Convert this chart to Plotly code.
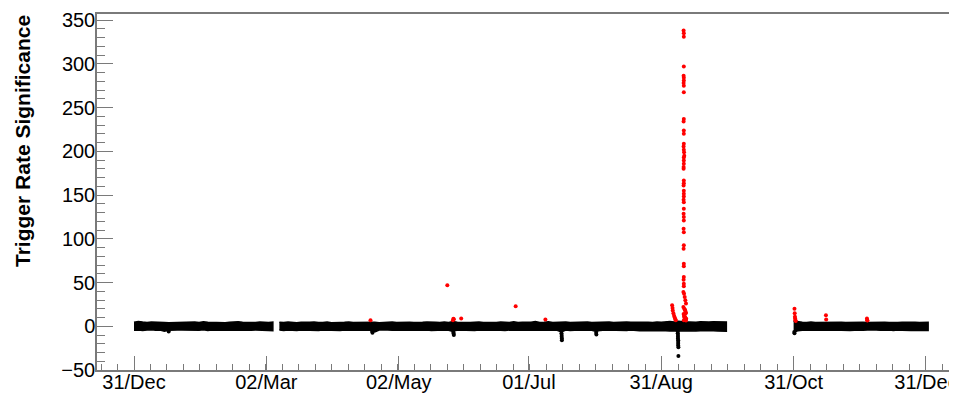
import numpy as np
import pandas as pd
import plotly.graph_objects as go

# ---------------- data (days since 31 Dec of previous year) ----------------
BASE = pd.Timestamp("2017-12-31")

# band envelope of the bulk (black) measurements, sampled every 2 days
seg1_days = np.arange(0, 65, 2)
seg1_hi = [4.5, 5.5, 4.8, 4.2, 5.0, 4.6, 4.0, 4.4, 4.1, 4.3, 4.0, 4.6, 4.2, 4.5, 4.8, 4.3, 5.2,
           4.7, 4.4, 4.9, 4.5, 4.1, 4.6, 4.8, 5.3, 4.5, 4.2, 4.7, 4.4, 5.0, 4.6, 4.3, 4.8]
seg1_lo = [-4.5, -4.2, -4.8, -4.4, -4.0, -4.6, -4.3, -5.6, -4.5, -4.1, -4.4, -4.2, -4.6, -4.0,
           -4.3, -4.5, -4.1, -4.7, -4.3, -4.0, -4.4, -4.6, -4.2, -4.5, -4.1, -4.8, -4.3, -4.5,
           -4.2, -4.6, -4.4, -4.7, -5.0]

seg2_days = np.arange(67, 274, 2)
seg2_hi = [4.6, 4.2, 4.9, 4.4, 4.1, 4.7, 4.3, 4.5, 5.0, 4.2,
           4.4, 4.8, 4.1, 4.6, 4.3, 4.5, 4.9, 4.2, 4.4, 4.7,
           4.3, 4.8, 4.5, 4.1, 4.6, 4.4, 4.8, 4.2, 4.5, 4.3,
           4.7, 4.4, 4.1, 4.6, 4.9, 4.3, 4.5, 4.2, 4.8, 4.4,
           5.5, 4.6, 4.3, 4.7, 4.2, 4.5, 4.9, 4.4, 4.1, 4.6,
           4.3, 4.8, 4.5, 4.2, 5.2, 4.4, 4.7, 4.3, 4.6, 5.4,
           4.2, 4.5, 5.1, 4.3, 4.6, 4.4, 4.8, 4.2, 4.5, 4.7,
           4.3, 4.9, 4.4, 4.6, 4.2, 4.5, 4.8, 4.3, 4.6, 4.4,
           5.0, 4.5, 4.7, 4.3, 4.8, 4.6, 4.4, 4.9, 4.5, 5.2,
           5.5, 5.0, 5.8, 5.3, 4.9, 5.1, 4.7, 5.2, 4.8, 5.0,
           5.1, 4.9, 5.4, 5.0]
seg2_lo = [-4.4, -4.7, -4.2, -4.5, -4.9, -4.3, -4.6, -4.1, -4.5, -4.8,
           -4.3, -4.6, -4.2, -4.5, -4.7, -4.3, -4.4, -4.9, -4.2, -4.5,
           -4.6, -4.3, -6.5, -4.4, -4.7, -4.2, -4.5, -4.8, -4.3, -4.6,
           -4.4, -4.2, -4.7, -4.5, -4.3, -4.8, -4.4, -4.6, -4.2, -4.5,
           -6.0, -4.4, -4.7, -4.3, -4.5, -4.8, -4.2, -4.6, -4.4, -4.7,
           -4.3, -4.5, -4.9, -4.2, -4.6, -4.4, -4.8, -4.5, -4.3, -4.6,
           -4.4, -4.7, -4.5, -4.2, -4.6, -6.5, -4.3, -4.8, -4.5, -4.4,
           -4.6, -4.3, -4.5, -6.0, -4.7, -4.4, -4.2, -4.6, -4.8, -4.5,
           -4.7, -4.4, -4.6, -5.0, -4.8, -4.5, -4.9, -4.6, -5.0, -5.2,
           -5.4, -6.0, -5.8, -5.0, -5.3, -5.1, -5.5, -5.0, -5.2, -5.4,
           -5.0, -5.3, -5.1, -5.6]

seg3_days = np.arange(304, 367, 2)
seg3_hi = [6.0, 5.0, 4.6, 4.3, 4.8, 4.4, 4.5, 4.9, 4.2, 4.6, 4.4, 4.7, 4.3, 4.5, 4.8, 4.2,
           4.6, 4.4, 4.5, 4.9, 4.3, 4.6, 4.2, 4.7, 4.4, 4.5, 4.8, 4.3, 4.6, 4.4, 4.7, 4.5]
seg3_lo = [-7.5, -5.0, -4.6, -4.4, -4.8, -4.3, -4.6, -4.5, -4.2, -4.7, -4.4, -4.6, -4.3, -4.8,
           -4.5, -4.2, -4.6, -4.4, -4.7, -4.3, -4.5, -4.6, -4.2, -4.8, -4.4, -4.5, -4.3, -4.7,
           -4.6, -4.4, -4.5, -4.8]

# negative excursions (black points)
neg_days = [16.0, 109.8, 109.9, 147.2, 147.3, 147.4, 197.0, 197.1, 197.1, 197.2, 197.2,
            213.0, 213.1, 250.6, 250.6, 250.7, 250.7, 250.7, 250.8, 250.8, 250.8, 250.8,
            250.9, 250.9, 304.3, 304.4]
neg_vals = [-6.0, -6.0, -7.5, -7.0, -8.5, -10.0, -8.0, -10.0, -12.0, -14.0, -16.0,
            -7.5, -9.5, -6.0, -8.0, -10.0, -12.0, -14.0, -16.0, -18.0, -20.0, -22.0,
            -24.0, -34.0, -6.5, -8.0]

# significant excursions (red points)
red_days = [109.0, 144.4, 147.0, 147.2, 147.4, 150.8, 175.9, 189.6,
            248.0, 248.2, 248.3, 248.6, 248.9, 249.2, 249.5, 249.7,
            253.3, 253.4, 253.4, 253.4, 253.3, 253.4, 253.4, 253.3, 253.4, 253.4,
            253.4, 253.3, 253.4, 253.4, 253.4, 253.3, 253.4, 253.5, 253.6, 253.4,
            253.4, 253.4, 253.3, 253.3, 253.4, 253.4, 253.3, 253.4, 253.4, 253.4,
            253.3, 253.4, 253.4, 253.3, 253.4, 253.4, 253.3, 253.4, 253.4, 253.3,
            253.4, 253.4, 253.4, 253.3, 253.4, 253.4,
            253.2, 253.5, 253.8, 254.1, 254.4, 253.2, 253.6, 254.0, 254.3, 253.3,
            253.7, 254.1, 254.5, 253.4, 253.9, 254.3, 253.5, 254.0, 254.4, 253.6,
            304.4, 304.5, 304.6, 304.7, 304.8, 305.0,
            318.9, 319.0, 337.8, 337.9, 338.0]
red_vals = [7.0, 47.0, 7.0, 8.5, 8.0, 9.0, 23.0, 7.6,
            24.0, 21.0, 18.0, 15.0, 12.0, 10.0, 8.0, 7.0,
            338.0, 335.0, 331.0, 297.0, 286.5, 284.0, 281.0, 278.0, 275.0, 267.5,
            237.0, 234.0, 223.7, 220.0, 208.6, 205.5, 201.7, 199.0, 195.0, 193.0,
            189.5, 185.7, 182.0, 180.0, 166.7, 163.6, 161.0, 155.0, 151.5, 148.4,
            144.6, 141.9, 134.4, 128.7, 124.8, 121.0, 111.5, 107.6, 92.5, 88.7,
            71.6, 68.5, 56.3, 53.3, 48.7, 45.7,
            39.2, 37.3, 33.4, 29.7, 25.9, 22.0, 20.0, 18.0, 16.0, 14.0,
            12.0, 10.0, 8.5, 7.0, 19.0, 15.0, 11.0, 9.0, 6.5, 13.0,
            20.0, 15.0, 11.0, 9.0, 7.0, 6.0,
            12.5, 7.6, 8.8, 7.0, 6.5]

tick_days = [0, 61, 122, 182, 243, 304, 365]
tick_text = ["31/Dec", "02/Mar", "02/May", "01/Jul", "31/Aug", "31/Oct", "31/Dec"]


def to_dates(days):
    return BASE + pd.to_timedelta(np.asarray(days, dtype=float), unit="D")


FONT = "Liberation Sans, Arial, Helvetica, sans-serif"
AXIS_COL = "#7a7a7a"

fig = go.Figure()

for d, hi, lo in [(seg1_days, seg1_hi, seg1_lo),
                  (seg2_days, seg2_hi, seg2_lo),
                  (seg3_days, seg3_hi, seg3_lo)]:
    xs = list(to_dates(d)) + list(to_dates(d[::-1]))
    ys = list(hi) + list(lo[::-1])
    fig.add_trace(go.Scatter(x=xs, y=ys, mode="lines", fill="toself",
                             fillcolor="black", line=dict(color="black", width=1.5),
                             hoverinfo="skip", showlegend=False))

fig.add_trace(go.Scatter(x=to_dates(neg_days), y=neg_vals, mode="markers",
                         marker=dict(color="black", size=4), showlegend=False))
fig.add_trace(go.Scatter(x=to_dates(red_days), y=red_vals, mode="markers",
                         marker=dict(color="#ff0000", size=4), showlegend=False))

x_start = BASE + pd.Timedelta(days=-17.05)
x_end = BASE + pd.Timedelta(days=379.3)

# the page body has an 8px margin, so the figure is sized/offset to compensate
fig.update_layout(
    width=949, height=385,
    margin=dict(l=89, r=0, t=6, b=23, autoexpand=False),
    paper_bgcolor="white", plot_bgcolor="white",
    font=dict(family=FONT, size=20, color="black"),
    xaxis=dict(
        type="date", range=[x_start, x_end], automargin=False,
        tickmode="array", tickvals=list(to_dates(tick_days)), ticktext=tick_text,
        ticks="inside", ticklen=14, tickwidth=1, tickcolor=AXIS_COL,
        showline=True, linecolor=AXIS_COL, linewidth=1.5, mirror=True,
        showgrid=False, zeroline=False, ticklabelstandoff=-7,
        ticklabeloverflow="allow",
        tickfont=dict(family=FONT, size=20, color="black"),
        minor=dict(ticks="inside", ticklen=6, tickwidth=1, tickcolor=AXIS_COL,
                   tick0=BASE, dtick=365 / 48 * 86400000, showgrid=False),
    ),
    yaxis=dict(
        range=[-50, 357], automargin=False,
        tickmode="array", tickvals=[-50, 0, 50, 100, 150, 200, 250, 300, 350],
        ticktext=["\u221250", "0", "50", "100", "150", "200", "250", "300", "350"],
        ticks="inside", ticklen=16, tickwidth=1, tickcolor=AXIS_COL,
        showline=True, linecolor=AXIS_COL, linewidth=1.5, mirror=False,
        showgrid=False, zeroline=False, ticklabelstandoff=-4,
        ticklabeloverflow="allow",
        tickfont=dict(family=FONT, size=20, color="black"),
        minor=dict(ticks="inside", ticklen=8, tickwidth=1, tickcolor=AXIS_COL,
                   tick0=0, dtick=10, showgrid=False),
    ),
    annotations=[dict(
        text="<b>Trigger Rate Significance</b>", textangle=-90,
        xref="paper", yref="paper", x=-0.086, y=1.003,
        xanchor="center", yanchor="top", showarrow=False,
        font=dict(family=FONT, size=21, color="black"),
    )],
)

fig.write_html("out.html")
